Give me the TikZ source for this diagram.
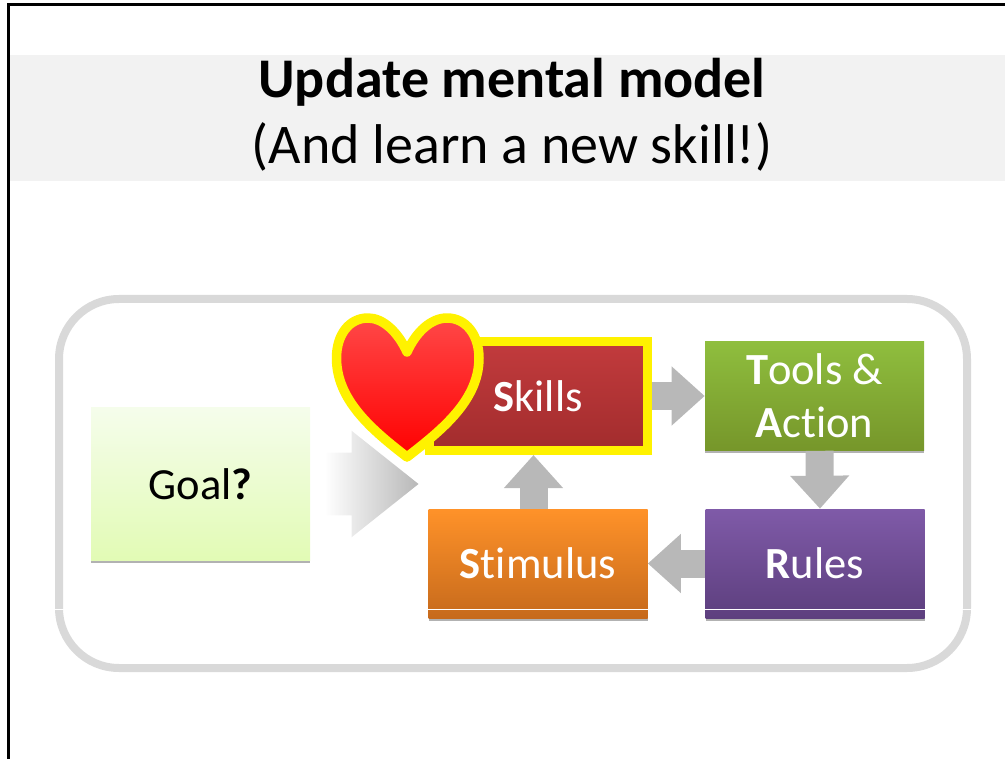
\documentclass[tikz,border=0pt]{standalone}
\usepackage{fontspec}
\setmainfont{Carlito}[Ligatures=NoCommon]
\usetikzlibrary{arrows.meta, shadows, shapes.arrows}

\definecolor{bandgray}{HTML}{F2F2F2}
\definecolor{framegray}{HTML}{D9D9D9}
\definecolor{arrowgray}{HTML}{B8B8B8}
\definecolor{goaltop}{HTML}{F5FDEB}
\definecolor{goalbot}{HTML}{E2FBB5}
\definecolor{skilltop}{HTML}{C23B3D}
\definecolor{skillbot}{HTML}{A22C2D}
\definecolor{stimtop}{HTML}{FF9229}
\definecolor{stimbot}{HTML}{C66A1C}
\definecolor{ruletop}{HTML}{7F5AA8}
\definecolor{rulebot}{HTML}{5D3F7E}
\definecolor{tooltop}{HTML}{8FBE3E}
\definecolor{toolbot}{HTML}{76962A}

\begin{document}
\begin{tikzpicture}[x = 1pt, y = -1pt, % reference pixels
                node distance = 277pt, % distance between boxes
                semithick % line style
            ]

            \tikzstyle{box}=[rectangle, minimum width = 219pt, minimum height = 109pt,
            inner sep = 0pt, align = center, text = white, font = \fontsize{44.5}{53}\selectfont,
            shade, shading angle = 0, drop shadow = {shadow xshift = 0pt,
            shadow yshift = -3pt, opacity = 0.3, fill = black}]
            \tikzstyle{flow}=[-{Triangle[length = 33pt, width = 57pt]}, line width = 28pt,
            arrowgray]
            \tikzstyle{title}=[inner sep = 0pt, font = \fontsize{56}{66}\selectfont]

            \useasboundingbox (0,0) rectangle (1005,759);

            \fill[bandgray] (9,55) rectangle (1005,181);
            \draw[line width = 3pt] (8,759) -- (8,5) -- (1005,5);
            \node (head) [title] at (512,82) {\textbf{Update mental model}};
            \node (sub) [title] at (512,147) {(And learn a new skill!)};

            \draw[framegray, line width = 8pt, rounded corners = 60pt] (59,299)
            rectangle (967,668);

            \node (goal) [box, minimum height = 152pt, text = black,
            top color = goaltop, bottom color = goalbot]
            at (200.5,484) {Goal\textbf{?}};

            \node (skills) [box, minimum width = 218pt, top color = skilltop,
            bottom color = skillbot, draw = yellow, line width = 9pt]
            at (538,396) {\textbf{S}kills};
            \node (stimulus) [box, top color = stimtop, bottom color = stimbot]
            at (538,563.5) {\textbf{S}timulus};
            \node (rules) [box, right of = stimulus, top color = ruletop,
            bottom color = rulebot] {\textbf{R}ules};
            \node (tools) [box, right of = skills, xshift = -0.5pt, top color = tooltop,
            bottom color = toolbot] {\textbf{T}ools \&\\\textbf{A}ction};

            \node (goalarrow) [single arrow, shape border rotate = 0, anchor = tip, inner xsep = 0pt,
            inner ysep = 31pt, minimum height = 94pt, single arrow head extend = 22pt,
            single arrow tip angle = 77, left color = white, right color = arrowgray]
            at (419,484) {};

            \path[flow] (skills.east) edge (tools.west);
            \path[flow] ([xshift = 5pt]tools.south) edge ([xshift = 5pt]rules.north);
            \path[flow] (rules.west) edge (stimulus.east);
            \path[flow] ([xshift = -4.5pt]stimulus.north) edge ([xshift = -4.5pt]skills.south);

            % heart on top of the skills box
            \draw[yellow, line width = 9.5pt, line join = round, top color = red!72!white,
            middle color = red!80!white, bottom color = red] (407,352)
            .. controls (398,332) and (383,318) .. (368,318)
            .. controls (349,318) and (336.5,335) .. (336.5,358)
            .. controls (336.5,400) and (372,430) .. (407,457)
            .. controls (442,430) and (479,400) .. (479,358)
            .. controls (479,335) and (466,318) .. (447,318)
            .. controls (431,318) and (416,332) .. (407,352) -- cycle;

            \draw[white, line width = 1.2pt] (10,609.5) -- (972,609.5);
\end{tikzpicture}
\end{document}
